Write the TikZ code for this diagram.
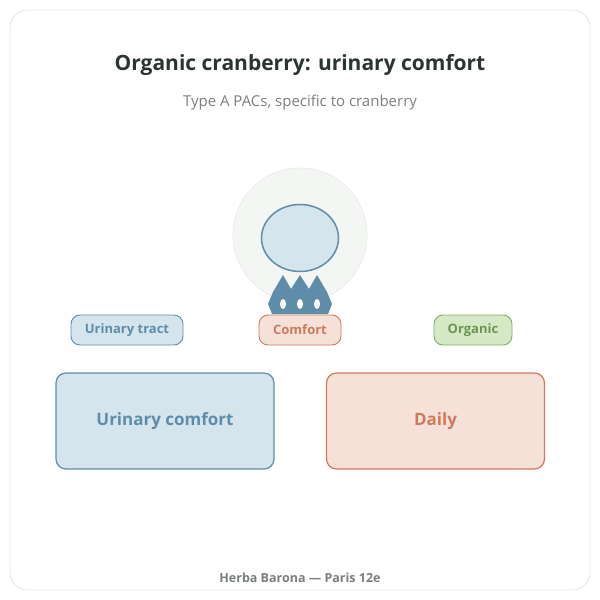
\documentclass[tikz,border=0pt]{standalone}
\usepackage{fontspec}
\setmainfont{Open Sans}
\usetikzlibrary{positioning,shapes.geometric}
\definecolor{inkdark}{HTML}{2A3532}
\definecolor{inkgray}{HTML}{7A7F7E}
\definecolor{blueline}{HTML}{5F8CA8}
\definecolor{bluefill}{HTML}{D5E5EE}
\definecolor{peachline}{HTML}{CF7A5C}
\definecolor{peachfill}{HTML}{F6E1D8}
\definecolor{greenline}{HTML}{82AE62}
\definecolor{greenfill}{HTML}{D6E9C6}
\definecolor{halo}{HTML}{F4F6F3}
\tikzset{
  pill/.style={draw, rounded corners=9pt, line width=0.9pt, minimum height=30pt,
    inner sep=0pt, font=\fontsize{13}{15}\selectfont\bfseries},
  card/.style={draw, rounded corners=10pt, line width=1.2pt, minimum width=218pt,
    minimum height=96pt, font=\fontsize{17}{20}\selectfont\bfseries},
}
\begin{document}
\begin{tikzpicture}[x=1pt,y=-1pt]
\useasboundingbox (0,0) rectangle (600,600);

\draw[draw=black!10, line width=0.8pt, rounded corners=18pt] (10,10) rectangle (590,590);

\node[font=\fontsize{21}{24}\selectfont\bfseries, text=inkdark] (title) at (300,65)
  {Organic cranberry: urinary comfort};
\node[font=\fontsize{15}{18}\selectfont, text=inkgray] (subtitle) at (300,103)
  {Type A PACs, specific to cranberry};

% icon
\fill[halo, draw=black!8, line width=0.8pt] (300,235) circle (67);
\fill[blueline] (268,304) -- (273,292) -- (283,275) -- (291,289) -- (300,275)
  -- (309,289) -- (317,275) -- (327,292) -- (332,304) -- (328,314)
  -- (272,314) -- cycle;
\foreach \hx in {283,300,317}
  \fill[white] (\hx,304) ellipse (3 and 5);
\node[draw=blueline, fill=bluefill, line width=1.5pt, ellipse, minimum width=77pt,
  minimum height=67pt, inner sep=0pt] (berry) at (300,238) {};

\node[pill, fill=bluefill, draw=blueline, text=blueline, minimum width=112pt] (tract) at (127,330) {Urinary tract};
\node[pill, fill=peachfill, draw=peachline, text=peachline, minimum width=82pt] (comfort) at (300,330) {Comfort};
\node[pill, fill=greenfill, draw=greenline, text=greenline!85!black, minimum width=78pt] (organic) at (473,330) {Organic};

\node[card, fill=bluefill, draw=blueline, text=blueline] (urinary) at (165,421) {Urinary comfort};
\node[card, fill=peachfill, draw=peachline, text=peachline] (daily) at (435.5,421) {Daily};

\node[font=\fontsize{12.5}{15}\selectfont\bfseries, text=inkgray] (footer) at (300,578)
  {Herba Barona — Paris 12e};
\end{tikzpicture}
\end{document}
